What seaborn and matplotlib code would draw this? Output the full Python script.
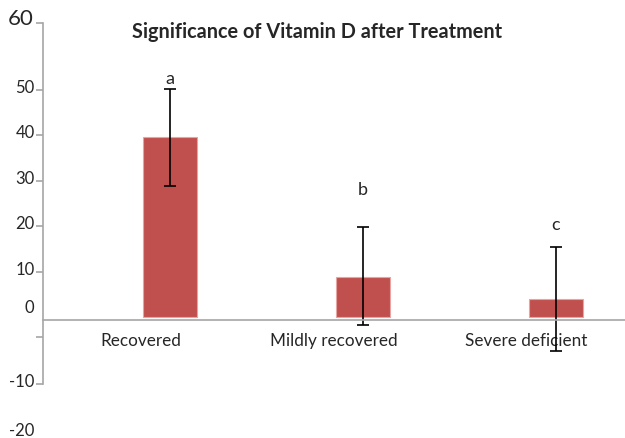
import numpy as np
import pandas as pd
import seaborn as sns
import matplotlib.pyplot as plt
from matplotlib import transforms

groups = ["Recovered", "Mildly recovered", "Severe deficient"]
means = [39.6, 8.8, 3.9]
upper = [50.1, 19.9, 15.4]
lower = [28.8, -1.8, -7.4]
letters = ["a", "b", "c"]
letter_y = [52.6, 28.2, 20.4]

ytick_vals = [64.6, 50, 40, 30, 20, 10, -4.3, -14.7]
ytick_text = ["60", "50", "40", "30", "20", "10", "", "-10"]

sns.set_style("white")
plt.rcParams["font.family"] = ["Lato", "DejaVu Sans"]

df = pd.DataFrame({"group": groups, "value": means})

fig = plt.figure(figsize=(6.25, 4.39), dpi=100)
ax = fig.add_axes([0.069, 0.123, 0.931, 0.822])

sns.barplot(data=df, x="group", y="value", color="#C0504D", saturation=1,
            width=0.28, edgecolor="#e6a5a3", linewidth=0.8, ax=ax)

m = np.array(means)
yerr = [m - np.array(lower), np.array(upper) - m]
ax.errorbar(range(len(groups)), means, yerr=yerr, fmt="none", ecolor="black",
            elinewidth=1.2, capsize=4, capthick=1.2)

for i, (t, y) in enumerate(zip(letters, letter_y)):
    ax.text(i, y, t, ha="center", va="center", fontsize=13)

ax.set_xlim(-0.66, 2.36)
ax.set_ylim(-14.7, 64.6)

for s in ["top", "right"]:
    ax.spines[s].set_visible(False)
ax.spines["left"].set_color("#a6a6a6")
ax.spines["bottom"].set_color("#a6a6a6")
ax.spines["bottom"].set_position(("data", -0.6))
ax.spines["left"].set_linewidth(1.2)
ax.spines["bottom"].set_linewidth(1.2)

ax.set_yticks(ytick_vals)
ax.set_yticklabels(ytick_text, fontsize=12)
ax.tick_params(axis="y", length=5, width=1.2, color="#a6a6a6", pad=1, left=True)
ax.get_yticklabels()[0].set_fontsize(16)
for lab in ax.get_yticklabels():
    lab.set_transform(lab.get_transform() + transforms.ScaledTranslation(0, 3 / 72, fig.dpi_scale_trans))
ax.get_yticklabels()[0].set_transform(ax.get_yticklabels()[0].get_transform()
                                      + transforms.ScaledTranslation(-1 / 72, 2 / 72, fig.dpi_scale_trans))

ax.set_xticks(range(len(groups)))
ax.set_xticklabels(groups, fontsize=12.3)
ax.tick_params(axis="x", length=0, pad=9)
for lab in ax.get_xticklabels():
    lab.set_transform(lab.get_transform() + transforms.ScaledTranslation(-21 / 72, 0, fig.dpi_scale_trans))

ax.set_xlabel("")
ax.set_ylabel("")

ytrans = transforms.blended_transform_factory(ax.transAxes, ax.transData)
ax.text(-0.015, 2.3, "0", transform=ytrans, ha="right", va="center", fontsize=12)
ax.text(-0.015, -24.7, "-20", transform=ytrans, ha="right", va="center",
        fontsize=12, clip_on=False)

fig.text(0.507, 0.927, "Significance of Vitamin D after Treatment", ha="center",
         va="center", fontsize=14.3, fontweight="bold")

fig.savefig("out.png", dpi=100)
